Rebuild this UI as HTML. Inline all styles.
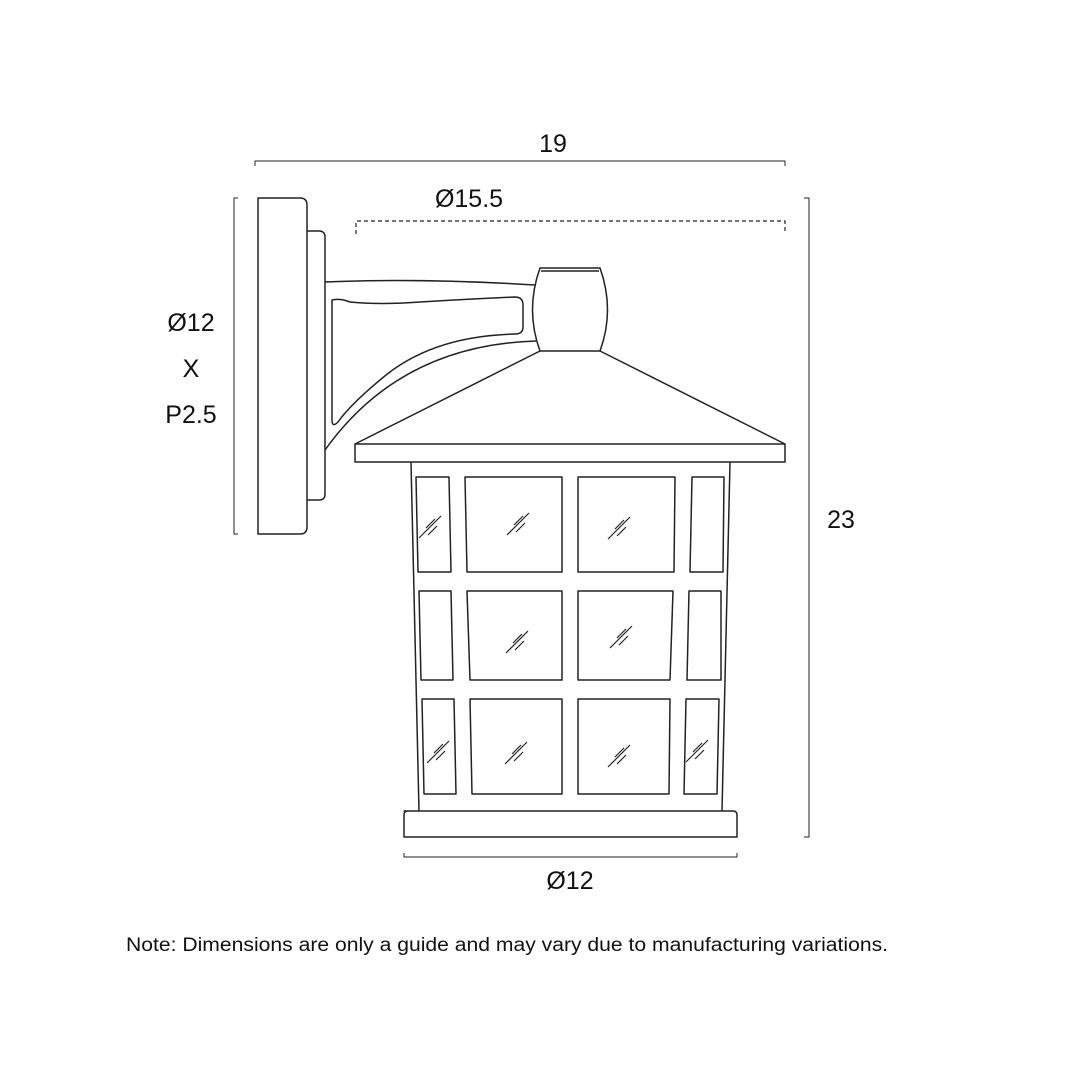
<!DOCTYPE html>
<html><head><meta charset="utf-8"><style>html,body{margin:0;padding:0;background:#fff}svg{display:block}</style></head>
<body>
<svg width="1080" height="1080" viewBox="0 0 1080 1080" xmlns="http://www.w3.org/2000/svg">
<defs><path id="g" d="M-11,11L11,-11M-4,1L5,-8M-2,8L7,-1"/></defs>
<g fill="none" stroke="#222" stroke-width="1.5" stroke-linejoin="round">
<path d="M255,166V161H785V166" stroke-width="1"/>
<path d="M356,234V221H785V234" stroke-width="1.2" stroke-dasharray="4,3"/>
<path d="M804,198H809V837H804" stroke-width="1"/>
<path d="M238,198H234V534H238" stroke-width="1"/>
<path d="M404,853V857H737V853" stroke-width="1"/>
<path d="M258,198H300Q307,198 307,205V527Q307,534 300,534H258Z"/>
<path d="M307,231H319Q325,231 325,237V494Q325,500 319,500H307"/>
<path d="M325,282Q420,278 535,285"/>
<path d="M332,300Q340,298 350,302Q380,305 420,302Q470,299 515,297Q523,297 523,305V327Q523,334 515,334Q430,336 380,380Q350,405 338,422Q332,428 332,420Z"/>
<path d="M325,450Q400,345 536,341"/>
<path d="M540,268H600Q615,310 600,351H540Q525,310 540,268Z"/>
<path d="M541,271H599"/>
<path d="M355,444L540,351M600,351L785,444"/>
<rect x="355" y="444" width="430" height="18"/>
<path d="M411,462L419,811M730,462L722,811"/>
<path d="M404,811H733Q737,811 737,815V837H404V815Q404,811 408,811Z"/>
<path d="M416,477H449L451,572H418Z"/>
<path d="M465,477H562V572H467Z"/>
<path d="M578,477H675L674,572H578Z"/>
<path d="M692,477H724L723,572H690Z"/>
<path d="M419,591H451L453,680H421Z"/>
<path d="M467,591H562V680H470Z"/>
<path d="M578,591H673L670,680H578Z"/>
<path d="M689,591H721V680H687Z"/>
<path d="M422,699H454L456,794H424Z"/>
<path d="M470,699H562V794H472Z"/>
<path d="M578,699H670L669,794H578Z"/>
<path d="M686,699H719L717,794H684Z"/>
</g>
<g stroke="#222" stroke-width="1.2" fill="none">
<use href="#g" transform="translate(430,527)"/>
<use href="#g" transform="translate(518,524)"/>
<use href="#g" transform="translate(619,528)"/>
<use href="#g" transform="translate(517,642)"/>
<use href="#g" transform="translate(621,637)"/>
<use href="#g" transform="translate(438,752)"/>
<use href="#g" transform="translate(516,753)"/>
<use href="#g" transform="translate(619,756)"/>
<use href="#g" transform="translate(697,751)"/>
</g>
<g font-family="Liberation Sans, sans-serif" font-size="25" fill="#111" text-anchor="middle">
<text x="553" y="152">19</text>
<text x="469" y="207">Ø15.5</text>
<text x="191" y="331">Ø12</text>
<text x="191" y="377">X</text>
<text x="191" y="423">P2.5</text>
<text x="841" y="528">23</text>
<text x="570" y="889">Ø12</text>
</g>
<text x="126" y="951" font-family="Liberation Sans, sans-serif" font-size="19" fill="#111" textLength="762" lengthAdjust="spacingAndGlyphs">Note: Dimensions are only a guide and may vary due to manufacturing variations.</text>
</svg>
</body></html>
